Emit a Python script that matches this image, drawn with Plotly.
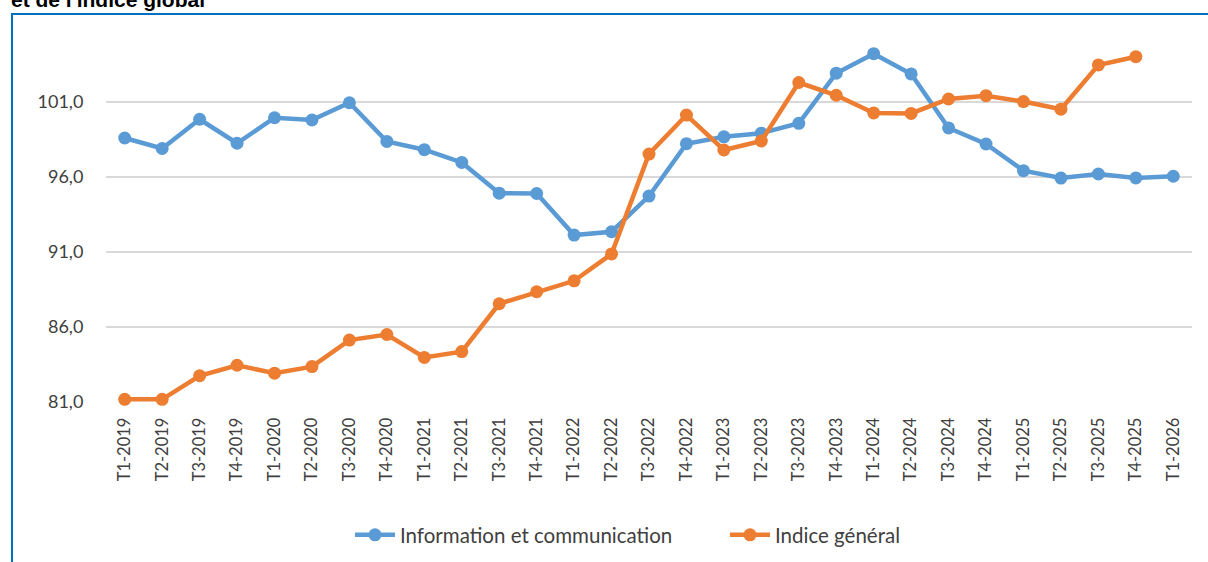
import plotly.graph_objects as go

categories = ["T1-2019","T2-2019","T3-2019","T4-2019",
              "T1-2020","T2-2020","T3-2020","T4-2020",
              "T1-2021","T2-2021","T3-2021","T4-2021",
              "T1-2022","T2-2022","T3-2022","T4-2022",
              "T1-2023","T2-2023","T3-2023","T4-2023",
              "T1-2024","T2-2024","T3-2024","T4-2024",
              "T1-2025","T2-2025","T3-2025","T4-2025","T1-2026"]

info_comm = [98.6, 97.9, 99.85, 98.25,
             99.95, 99.8, 100.95, 98.37,
             97.82, 96.97, 94.92, 94.9,
             92.13, 92.35, 94.73, 98.22,
             98.68, 98.92, 99.58, 102.92,
             104.22, 102.87, 99.27, 98.2,
             96.42, 95.93, 96.2, 95.94, 96.05]

indice_general = [81.18, 81.18, 82.75, 83.45,
                  82.92, 83.36, 85.13, 85.5,
                  83.97, 84.36, 87.55, 88.35,
                  89.08, 90.87, 97.53, 100.13,
                  97.8, 98.4, 102.3, 101.45,
                  100.27, 100.24, 101.2, 101.42,
                  101.03, 100.52, 103.47, 104.02, None]

y_ticks = [81, 86, 91, 96, 101]

FONT = "Lato"

fig = go.Figure()
fig.add_trace(go.Scatter(
    x=categories, y=info_comm, name="Information et communication",
    mode="lines+markers", line=dict(color="#5B9BD5", width=4.5),
    marker=dict(size=13, color="#5B9BD5"), cliponaxis=False))
fig.add_trace(go.Scatter(
    x=categories, y=indice_general, name="Indice général",
    mode="lines+markers", line=dict(color="#ED7D31", width=4.5),
    marker=dict(size=13, color="#ED7D31"), cliponaxis=False,
    connectgaps=False))

top_px, bottom_px, left_px, right_px = 27, 402, 106, 1192
H = bottom_px - top_px
W = right_px - left_px

def py(p):
    return (bottom_px - p) / H

def px(p):
    return (p - left_px) / W

fig.update_layout(
    width=1208, height=562,
    margin=dict(l=left_px, r=1208 - right_px, t=top_px, b=562 - bottom_px, pad=0,
                autoexpand=False),
    paper_bgcolor="white", plot_bgcolor="white",
    separators=", ",
    font=dict(family=FONT, color="#404040"),
    showlegend=True,
    legend=dict(orientation="h", x=px(350), xanchor="left", y=py(535), yanchor="middle",
                font=dict(size=20.5, color="#404040", family=FONT),
                entrywidth=320, entrywidthmode="pixels",
                itemwidth=40, bgcolor="rgba(0,0,0,0)"),
    xaxis=dict(type="category", tickangle=-90, showgrid=False, zeroline=False,
               showline=False, ticks="outside", ticklen=8, tickcolor="rgba(0,0,0,0)",
               tickfont=dict(size=16.5, color="#404040", family=FONT),
               range=[-0.5, len(categories) - 0.5]),
    yaxis=dict(range=[81, 106], tickvals=y_ticks, tickformat=".1f",
               showgrid=True, gridcolor="#D9D9D9", gridwidth=1.5, zeroline=False,
               showline=False, ticks="outside", ticklen=18, tickcolor="rgba(0,0,0,0)",
               tickfont=dict(size=18, color="#404040", family=FONT)),
    shapes=[dict(type="rect", xref="paper", yref="paper",
                 x0=px(12), x1=px(1300), y0=py(700), y1=py(14),
                 line=dict(color="#0070C0", width=2), fillcolor="rgba(0,0,0,0)", layer="below")],
    annotations=[dict(text="<b>et de l'indice global</b>", xref="paper", yref="paper",
                      x=px(9), y=py(-1), xanchor="left", yanchor="middle", showarrow=False,
                      font=dict(family="Liberation Sans", size=21, color="#000000"))],
)

fig.write_html("out.html", config={"displayModeBar": False},
               post_script="document.body.style.margin='0';")
